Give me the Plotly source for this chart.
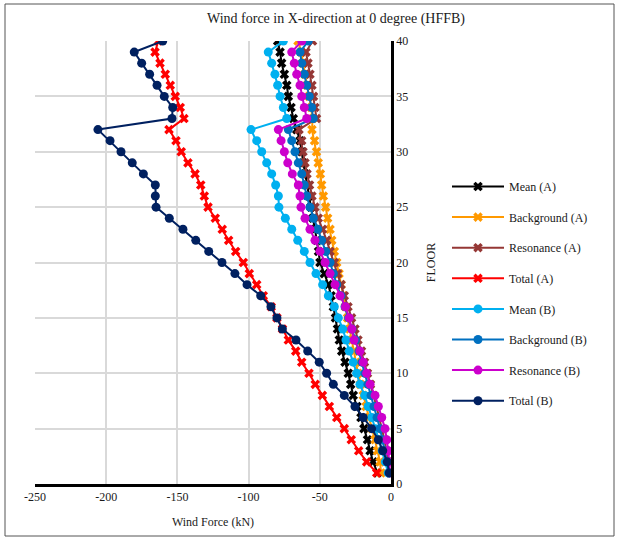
import plotly.graph_objects as go

floors = list(range(1, 41))

mean_a = [-9.5, -12.6, -14.7, -16.5, -19.0, -21.1, -23.9, -26.5, -28.3, -30.0,
          -32.3, -34.6, -36.3, -37.6, -39.0, -40.5, -42.1, -44.0, -46.8, -49.9,
          -50.9, -52.0, -53.4, -54.8, -56.2, -57.6, -59.2, -60.4, -61.6, -62.7,
          -63.9, -66.2, -68.6, -70.2, -72.1, -73.2, -74.9, -76.8, -77.9, -79.6]
background_a = [-7.0, -7.7, -9.5, -11.2, -13.3, -15.5, -17.5, -19.5, -21.5, -23.2,
                -24.6, -26.0, -27.5, -29.0, -30.5, -32.0, -33.5, -35.0, -36.5, -38.1,
                -39.8, -41.6, -42.8, -44.5, -45.9, -47.5, -48.7, -49.6, -51.1, -52.3,
                -53.7, -55.5, -55.0, -56.0, -57.5, -59.0, -60.5, -62.0, -63.0, -65.3]
resonance_a = [-0.7, -1.8, -3.2, -4.6, -6.3, -8.1, -10.2, -12.3, -14.4, -16.5,
               -18.6, -20.7, -23.2, -25.3, -27.7, -30.2, -32.8, -35.1, -37.6, -39.8,
               -42.8, -45.2, -48.1, -51.1, -53.4, -55.5, -57.2, -59.0, -60.4, -61.8,
               -62.7, -64.6, -52.3, -53.4, -54.4, -55.5, -56.9, -58.3, -59.7, -55.1]
total_a = [-10.0, -17.1, -22.7, -27.9, -32.8, -38.1, -43.3, -48.2, -53.2, -57.6,
           -62.7, -66.9, -72.1, -76.2, -80.1, -84.1, -89.7, -94.3, -99.5, -103.7,
           -109.1, -114.0, -118.5, -123.4, -128.5, -131.1, -133.6, -137.6, -142.6, -147.3,
           -151.0, -155.9, -145.4, -148.0, -151.5, -155.0, -158.5, -162.2, -165.7, -163.4]
mean_b = [-2.0, -4.0, -6.2, -8.5, -11.0, -13.5, -16.0, -18.5, -21.8, -24.1,
          -26.5, -29.3, -31.6, -33.9, -37.0, -39.8, -44.0, -48.0, -52.7, -56.9,
          -60.9, -65.5, -69.7, -74.2, -78.7, -79.1, -81.0, -83.8, -87.3, -90.8,
          -94.3, -98.3, -73.2, -75.6, -77.9, -79.6, -81.5, -83.8, -86.2, -75.6]
background_b = [-1.4, -2.8, -4.2, -6.0, -7.7, -9.8, -11.9, -14.0, -16.2, -18.3,
                -20.4, -22.5, -24.9, -27.4, -29.8, -32.3, -35.1, -38.1, -40.5, -42.8,
                -45.9, -48.7, -51.5, -54.6, -56.9, -59.2, -60.9, -62.7, -65.1, -67.4,
                -69.7, -72.1, -54.6, -55.7, -57.4, -59.2, -60.9, -62.7, -63.9, -58.1]
resonance_b = [-0.7, -1.1, -1.9, -3.0, -4.2, -6.5, -8.9, -11.2, -14.7, -17.1,
               -19.5, -21.8, -26.0, -27.6, -29.3, -32.0, -35.8, -39.3, -42.8, -46.3,
               -49.9, -53.4, -56.9, -60.4, -63.2, -63.9, -65.1, -69.3, -72.5, -74.9,
               -77.2, -79.1, -59.2, -60.9, -62.7, -63.9, -66.2, -67.9, -69.7, -62.7]
total_b = [-1.2, -2.6, -5.8, -8.9, -13.6, -19.5, -25.3, -32.8, -40.5, -45.2,
           -50.4, -58.5, -66.7, -76.3, -80.1, -84.3, -91.5, -101.1, -109.6, -118.7,
           -128.0, -137.1, -146.1, -155.7, -165.0, -165.5, -165.5, -173.9, -181.7, -189.6,
           -197.3, -205.8, -153.8, -153.3, -159.2, -164.3, -169.5, -175.1, -180.3, -160.3]

x_ticks = [-250, -200, -150, -100, -50, 0]
x_tick_text = ["-250", "-200", "-150", "-100", "-50", "0"]
y_ticks = [0, 5, 10, 15, 20, 25, 30, 35, 40]

series = [
    ("Mean (A)", mean_a, "#000000", "x"),
    ("Background (A)", background_a, "#FF9900", "x"),
    ("Resonance (A)", resonance_a, "#953735", "x"),
    ("Total (A)", total_a, "#FF0000", "x"),
    ("Mean (B)", mean_b, "#00B0F0", "circle"),
    ("Background (B)", background_b, "#0070C0", "circle"),
    ("Resonance (B)", resonance_b, "#CC00CC", "circle"),
    ("Total (B)", total_b, "#002060", "circle"),
]

FONT = "Times New Roman, Liberation Serif, serif"
TXT = "#1a1a1a"

fig = go.Figure()
for i, (name, vals, color, sym) in enumerate(series):
    fig.add_trace(go.Scatter(
        x=vals, y=floors, name=name, mode="lines+markers",
        line=dict(color=color, width=2),
        marker=dict(symbol=sym, size=9 if sym == "circle" else 8.5, color=color),
        legendgroup=f"g{i}",
    ))

W, H = 619, 540
L, R, T, B = 35, 391, 41, 484
pw, ph = R - L, B - T

fig.update_layout(
    width=W, height=H,
    margin=dict(l=L, r=W - R, t=T, b=H - B),
    paper_bgcolor="white", plot_bgcolor="white",
    font=dict(family=FONT, size=12, color=TXT),
    title=dict(text="Wind force in X-direction at 0 degree (HFFB)",
               x=336 / W, y=1 - 18 / H, xanchor="center", yanchor="middle",
               font=dict(family=FONT, size=14, color=TXT)),
    showlegend=True,
    legend=dict(x=(447 - L) / pw, y=(B - 172) / ph, xanchor="left", yanchor="top",
                font=dict(family=FONT, size=12, color=TXT),
                itemwidth=52,
                tracegroupgap=11.6, bgcolor="rgba(0,0,0,0)"),
    xaxis=dict(range=[-250, 0], tickvals=x_ticks, ticktext=x_tick_text, showgrid=True,
               gridcolor="#D9D9D9", gridwidth=1.5, zeroline=False,
               showline=True, linecolor="black", linewidth=2.5,
               ticks="", tickfont=dict(family=FONT, size=12, color=TXT),
               title=dict(text="Wind Force (kN)", standoff=15,
                          font=dict(family=FONT, size=12, color=TXT))),
    yaxis=dict(range=[0, 40], tickvals=y_ticks, side="right", showgrid=True,
               gridcolor="#D9D9D9", gridwidth=1.5, zeroline=False,
               showline=True, linecolor="black", linewidth=2.5,
               ticks="", tickfont=dict(family=FONT, size=12, color=TXT),
               title=dict(text="FLOOR", standoff=20,
                          font=dict(family=FONT, size=12, color=TXT))),
    shapes=[dict(type="rect", xref="paper", yref="paper",
                 x0=(5 - L) / pw, x1=(614 - L) / pw,
                 y0=(B - 536) / ph, y1=(B - 4) / ph,
                 line=dict(color="#555555", width=1), layer="below")],
)

fig.write_html("out.html")
